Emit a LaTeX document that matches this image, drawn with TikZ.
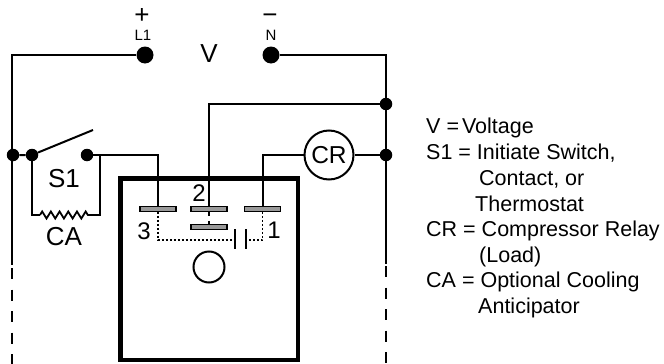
\documentclass[tikz,border=0pt]{standalone}
\usepackage{fontspec}
\setmainfont{Liberation Sans}
\usetikzlibrary{decorations.pathmorphing}
\tikzset{
 wire/.style={line width=2pt},
 dotn/.style={circle,fill=black,inner sep=0pt,minimum size=12.5pt},
 bar/.style={draw=black,fill=black!40,line width=1.3pt,minimum width=36pt,minimum height=4.5pt,inner sep=0pt},
 lbl/.style={inner sep=0pt,font=\fontsize{26pt}{26pt}\selectfont},
 small/.style={inner sep=0pt,font=\fontsize{15pt}{15pt}\selectfont},
 leg/.style={inner sep=0pt,anchor=base west,font=\fontsize{21.5pt}{22pt}\selectfont},
 dots/.style={line width=1.8pt,dash pattern=on 1.8pt off 2.2pt},
 dash2/.style={line width=2pt,dash pattern=on 11pt off 10.5pt}
}
\begin{document}
\begin{tikzpicture}[x=1pt,y=-1pt]
\useasboundingbox (0,0) rectangle (664,364);
\node[dotn,minimum size=17pt] (l1) at (145,55) {};
\node[dotn,minimum size=17pt] (n) at (271,55) {};
\node[dotn] (lj) at (13,155) {};
\node[dotn] (sa) at (32,155) {};
\node[dotn] (sb) at (87,155) {};
\node[dotn] (rt) at (386,104) {};
\node[dotn] (rb) at (386,155) {};
\node[circle,draw,line width=2pt,minimum size=49pt,inner sep=0pt,font=\fontsize{24.5pt}{25pt}\selectfont] (cr) at (329,155) {CR};
\node[bar] (p3) at (158,209) {};
\node[bar] (p2) at (209,209) {};
\node[bar] (p1) at (262.5,209) {};
\node[bar] (p4) at (209,227) {};
\coordinate (lt) at (12,55);
\coordinate (ls) at (12,265);
\coordinate (le) at (12,364);
\coordinate (rt0) at (386,55);
\coordinate (rs) at (386,264);
\coordinate (re) at (386,364);
\coordinate (ld) at (12,268);
\coordinate (rd) at (386,266);
\draw[wire] (l1) -- (lt) -- (ls);
\draw[dash2] (ld) -- (le);
\draw[wire] (n) -- (rt0) -- (rs);
\draw[dash2] (rd) -- (re);
\draw[line width=4.5pt] (120.5,178.5) rectangle (298,360);
\draw[wire] (rt) -- (209,104) -- (p2.north);
\draw[wire] (rb) -- (cr);
\draw[wire] (cr) -- (262.5,155) -- (p1.north);
\draw[wire] (sb) -- (158,155) -- (p3.north);
\draw[wire] (lj) -- (sa) -- (93,130);
\coordinate (c1) at (32,215);
\coordinate (c2) at (100,215);
\coordinate (c3) at (100,155);
\draw[wire] (sa) -- (c1) -- (40,215);
\draw[wire] (c3) -- (c2) -- (92,215);
\draw[line width=1.8pt,decorate,decoration={zigzag,segment length=8.7pt,amplitude=3.5pt}] (40,215) -- (92,215);
\draw[line width=1.8pt,dash pattern=on 4pt off 5pt] (p2.south) -- (p4.north);
\draw[dots] (p3.south) -- (158,240) -- (235,240);
\draw[dots] (p1.south) -- (262.5,240) -- (246,240);
\draw[wire] (234.5,229) -- (234.5,249);
\draw[wire] (246,229) -- (246,249);
\node[circle,draw,line width=2pt,minimum size=31pt,inner sep=0pt] (k) at (209,267) {};
\node[lbl] at (142,16) {+};
\node[lbl] at (270,19) {−};
\node[small] at (143,35) {L1};
\node[small] at (271,35) {N};
\node[lbl] at (209,54) {V};
\node[lbl] at (64,179) {S1};
\node[lbl] at (64,237) {CA};
\node[lbl,font=\fontsize{24pt}{24pt}\selectfont] at (199,193) {2};
\node[lbl,font=\fontsize{24pt}{24pt}\selectfont] at (144,231) {3};
\node[lbl,font=\fontsize{24pt}{24pt}\selectfont] at (274,230) {1};
\node[leg] at (426,133) {V =\hspace{3pt}Voltage};
\node[leg] at (426,159) {S1 = Initiate Switch,};
\node[leg] at (479,185) {Contact, or};
\node[leg] at (475,211) {Thermostat};
\node[leg] at (426,236) {CR = Compressor Relay};
\node[leg] at (479,262) {(Load)};
\node[leg] at (426,287) {CA = Optional Cooling};
\node[leg] at (478,313) {Anticipator};
\end{tikzpicture}
\end{document}
